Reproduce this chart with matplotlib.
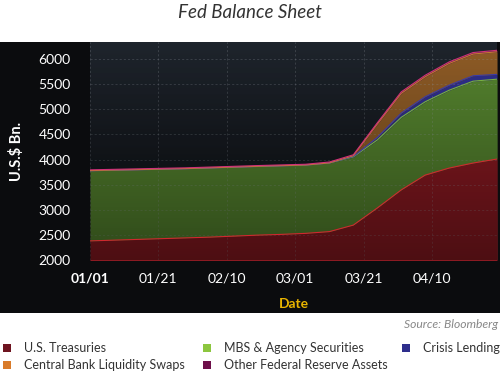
import numpy as np
import matplotlib
matplotlib.use("Agg")
import matplotlib.pyplot as plt
from matplotlib.patches import Rectangle
from matplotlib.colors import LinearSegmentedColormap

plt.rcParams["font.family"] = ["Lato", "DejaVu Sans"]

# weekly (Wednesday) observations, days since 01/01
days = [0, 7, 14, 21, 28, 35, 42, 49, 56, 63, 70, 77, 84, 91, 98, 105, 112, 119]
treasuries = [2380, 2395, 2410, 2425, 2440, 2455, 2475, 2495, 2510, 2530, 2565, 2695,
              3035, 3395, 3690, 3830, 3930, 4010]
mbs = [1397, 1392, 1387, 1382, 1377, 1377, 1372, 1367, 1365, 1358, 1365, 1357,
       1355, 1445, 1460, 1550, 1630, 1590]
crisis = [0, 0, 0, 0, 0, 0, 0, 0, 0, 0, 0, 8, 50, 85, 100, 100, 108, 95]
swaps = [3, 3, 3, 3, 3, 3, 3, 3, 3, 3, 3, 15, 266, 392, 398, 433, 432, 450]
other = [15, 15, 15, 15, 15, 15, 15, 15, 15, 15, 18, 20, 25, 30, 30, 30, 30, 30]

tick_days = [0, 20, 40, 60, 80, 100]
tick_labels = ["01/01", "01/21", "02/10", "03/01", "03/21", "04/10"]

names = ["U.S. Treasuries", "MBS & Agency Securities", "Crisis Lending",
         "Central Bank Liquidity Swaps", "Other Federal Reserve Assets"]
fills = ["#8c1a22", "#56852f", "#30308f", "#8f5c26", "#8a1a5a"]
edges = ["#d0282e", "#78b040", "#3a3aa8", "#c07a30", "#d0307a"]
legend_cols = ["#6e1420", "#8cc63f", "#2e2e8c", "#d97b2a", "#6e0f4a"]

fig = plt.figure(figsize=(5.0, 3.74), dpi=100)
fig.patch.set_facecolor("white")
fig.patches.append(Rectangle((0, 61 / 374), 1, 271 / 374, transform=fig.transFigure,
                             facecolor="#0b0c0e", edgecolor="none", zorder=-5))

ax = fig.add_axes([90 / 500, 114 / 374, 407 / 500, 218 / 374])
ax.set_zorder(1)
ax.set_xlim(0, 119)
ax.set_ylim(2000, 6340)

# background gradient
bg = LinearSegmentedColormap.from_list("bg", ["#0e1014", "#1f252d"])
ax.imshow(np.linspace(0, 1, 256).reshape(-1, 1), cmap=bg, origin="lower",
          extent=[0, 1, 0, 1], transform=ax.transAxes, aspect="auto", zorder=0)

series = [treasuries, mbs, crisis, swaps, other]
x = np.array(days)
base = np.zeros(len(days))
tops = []
for vals, fc in zip(series, fills):
    top = base + np.array(vals)
    ax.fill_between(x, base if base.any() else 0, top, color=fc, lw=0, zorder=1)
    tops.append(top)
    base = top

# darkening towards the bottom
shade = np.zeros((256, 1, 4))
shade[:, 0, 3] = np.linspace(0.45, 0.0, 256)
ax.imshow(shade, origin="lower", extent=[0, 1, 0, 1], transform=ax.transAxes,
          aspect="auto", zorder=2)

ax.grid(True, color="#9aa0a8", ls=(0, (3, 3)), lw=0.5, alpha=0.35, zorder=3)
for top, ec in zip(tops, edges):
    ax.plot(x, top, color=ec, lw=0.8, zorder=4)

ax.set_facecolor("none")
for s in ax.spines.values():
    s.set_visible(False)
ax.set_yticks(range(2000, 6001, 500))
ax.set_xticks(tick_days)
ax.set_xticklabels(tick_labels)
ax.tick_params(length=0, colors="white", labelsize=10)
ax.tick_params(axis="y", pad=14)
ax.tick_params(axis="x", pad=9)
ax.get_xticklabels()[0].set_fontweight("bold")
ax.set_ylabel("U.S.$ Bn.", color="white", fontsize=10.5, fontweight="bold", labelpad=10)
ax.set_xlabel("Date", color="#e8b400", fontsize=10, fontweight="bold", labelpad=10)

fig.text(0.5, 1 - 12 / 374, "Fed Balance Sheet", ha="center", va="center",
         fontsize=13.5, style="italic", color="#333333")
fig.text(498 / 500, 1 - 325 / 374, "Source: Bloomberg", ha="right", va="center",
         fontsize=8.7, style="italic", color="#888888")

# legend laid out in three columns
order = [0, 3, 1, 4, 2]
slots = [(3, 348), (3, 365), (203, 348), (203, 365), (402, 348)]
for i, (px, py) in zip(order, slots):
    fig.patches.append(Rectangle((px / 500, 1 - (py + 4) / 374), 8 / 500, 8 / 374,
                                 transform=fig.transFigure, facecolor=legend_cols[i],
                                 edgecolor="none"))
    fig.text((px + 21) / 500, 1 - py / 374, names[i], ha="left", va="center",
             fontsize=9, color="#333333")

fig.savefig("out.png", dpi=100)
